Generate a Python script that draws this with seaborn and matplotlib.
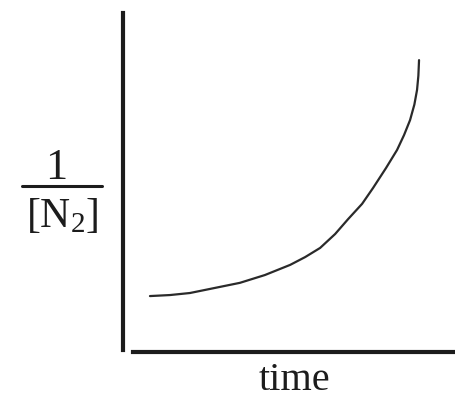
import matplotlib
matplotlib.use("Agg")
import matplotlib.pyplot as plt
from matplotlib.lines import Line2D
import seaborn as sns
import pandas as pd

# data (arbitrary units)
time = [0.81, 1.41, 2.01, 2.76, 3.51, 4.26, 5.02, 5.47, 5.92, 6.37, 6.76,
        7.18, 7.51, 7.90, 8.23, 8.44, 8.62, 8.75, 8.83, 8.87, 8.89]
inv_n2 = [1.65, 1.68, 1.74, 1.89, 2.04, 2.27, 2.57, 2.80, 3.07, 3.48, 3.92,
          4.37, 4.84, 5.43, 5.96, 6.40, 6.84, 7.30, 7.73, 8.15, 8.61]
x_label = "time"
y_num = "1"
y_den = r"[N$_\mathrm{2}$]"

sns.set_theme(style="white")
plt.rcParams["font.family"] = ["Liberation Serif", "DejaVu Serif"]
plt.rcParams["mathtext.fontset"] = "custom"
plt.rcParams["mathtext.rm"] = "Liberation Serif"
plt.rcParams["mathtext.it"] = "Liberation Serif:italic"

W, H = 456, 400
fig = plt.figure(figsize=(W / 100, H / 100), dpi=100, facecolor="white")
ax = fig.add_axes([123 / W, 1 - 352 / H, (456 - 123) / W, (352 - 13) / H])
ax.set_facecolor("none")

df = pd.DataFrame({"time": time, "inv": inv_n2})
sns.lineplot(data=df, x="time", y="inv", ax=ax, color="#2a2a2a", linewidth=1.6,
             sort=False)
for ln in ax.lines:
    ln.set_solid_joinstyle("round")
    ln.set_solid_capstyle("round")

ax.set_xlim(0, 10)
ax.set_ylim(0, 10)
ax.set_xticks([])
ax.set_yticks([])
ax.set_xlabel("")
ax.set_ylabel("")
for s in ["top", "right"]:
    ax.spines[s].set_visible(False)
ax.spines["left"].set_linewidth(3.0)
ax.spines["left"].set_color("#1c1c1c")
ax.spines["left"].set_bounds(0.06, 10)
ax.spines["bottom"].set_linewidth(3.0)
ax.spines["bottom"].set_color("#1c1c1c")
ax.spines["bottom"].set_bounds(0.3, 10)

# axis labels
fig.text(294 / W, 1 - 390 / H, x_label, ha="center", va="baseline",
         fontsize=29, color="#1c1c1c")
fig.text(56 / W, 1 - 179 / H, y_num, ha="center", va="baseline",
         fontsize=32, color="#1c1c1c")
fig.text(62 / W, 1 - 227 / H, y_den, ha="center", va="baseline",
         fontsize=30, color="#1c1c1c")
fig.add_artist(Line2D([22 / W, 102 / W], [1 - 186 / H, 1 - 186 / H],
                      transform=fig.transFigure, color="#1c1c1c", linewidth=2.2))

fig.savefig("out.png", dpi=100, facecolor="white")
